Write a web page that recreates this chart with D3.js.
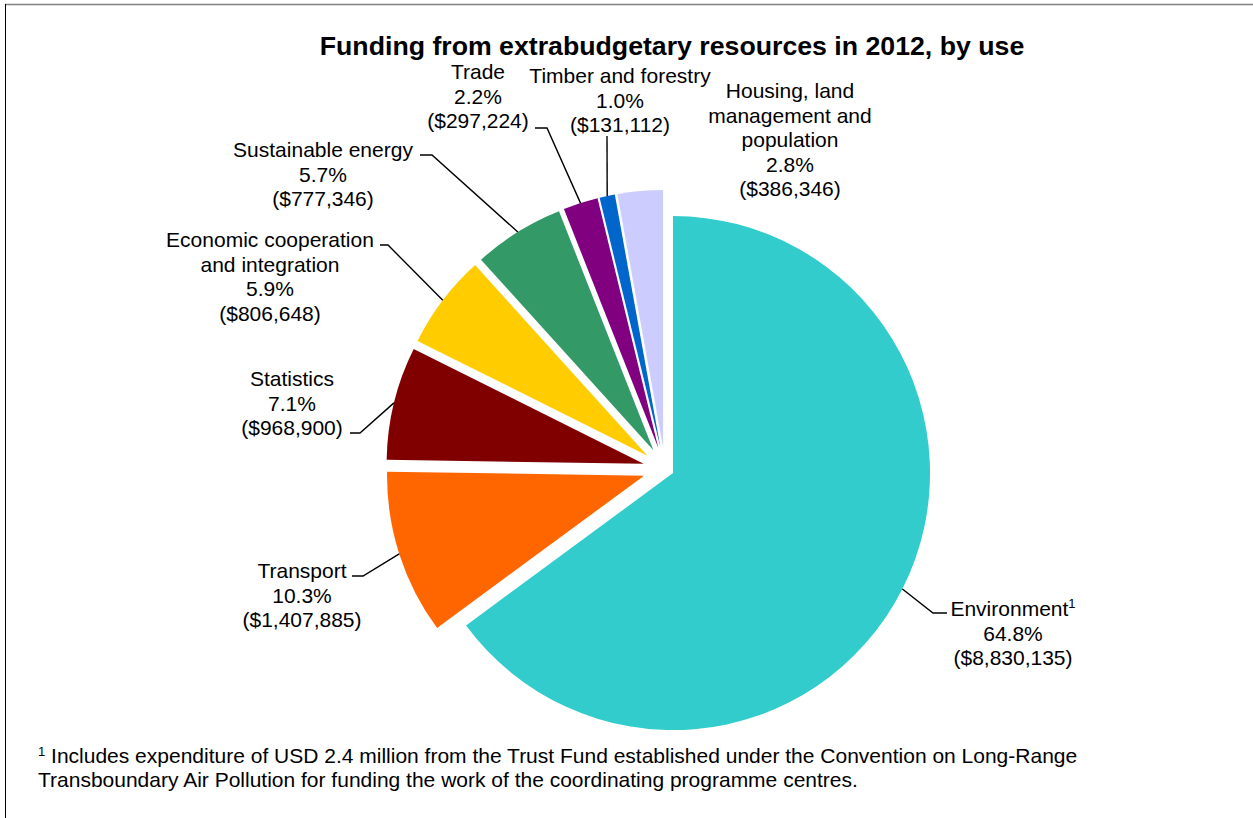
<!DOCTYPE html>
<html>
<head>
<meta charset="utf-8">
<script src="https://cdn.jsdelivr.net/npm/d3@7"></script>
<style>
  body { margin: 0; background: #fff; }
  svg { display: block; }
  text { font-family: "Liberation Sans", Arial, sans-serif; fill: #000; }
</style>
</head>
<body>
<svg id="chart" width="1253" height="818"></svg>
<script>
// Extrabudgetary funding in 2012, by use (USD)
const categories = [
  "Environment",
  "Transport",
  "Statistics",
  "Economic cooperation\nand integration",
  "Sustainable energy",
  "Trade",
  "Timber and forestry",
  "Housing, land\nmanagement and\npopulation"
];
const amounts = [8830135, 1407885, 968900, 806648, 777346, 297224, 131112, 386346];
const percents = [64.8, 10.3, 7.1, 5.9, 5.7, 2.2, 1.0, 2.8];
const footnoteMarks = ["1", "", "", "", "", "", "", ""];
const colors = ["#33CCCC", "#FF6600", "#800000", "#FFCC00", "#339966", "#800080", "#0066CC", "#CCCCFF"];

const titleText = "Funding from extrabudgetary resources in 2012, by use";
const footnoteLines = [
  "Includes expenditure of USD 2.4 million from the Trust Fund established under the Convention on Long-Range",
  "Transboundary Air Pollution for funding the work of the coordinating programme centres."
];

// Layout
const W = 1253, H = 818;
const cx = 665, cy = 469, radius = 257;
const explode = [9, 22, 22, 22, 22, 22, 22, 22];
// label anchor: centre x and first baseline; leader: label-side points
const labelPos = [
  { x: 1013, y: 616, leader: [[947, 613], [933, 613]] },
  { x: 302, y: 578, leader: [[352, 576], [363, 576]] },
  { x: 292, y: 386, leader: [[350, 433], [360, 433]] },
  { x: 270, y: 247, leader: [[380, 245], [388, 245]] },
  { x: 323, y: 157, leader: [[420, 155], [432, 155]] },
  { x: 478, y: 79, leader: [[535, 128], [547, 128]] },
  { x: 620, y: 83, leader: [[607, 136]] },
  { x: 790, y: 98, leader: null }
];
const lineH = 24.5;

const svg = d3.select("#chart");

// outer frame
svg.append("line").attr("x1", 5).attr("y1", 4.5).attr("x2", W).attr("y2", 4.5)
  .attr("stroke", "#808080").attr("stroke-width", 1.5);
svg.append("line").attr("x1", 5.5).attr("y1", 4).attr("x2", 5.5).attr("y2", H)
  .attr("stroke", "#000").attr("stroke-width", 1);

// title
svg.append("text")
  .attr("x", 672).attr("y", 55)
  .attr("text-anchor", "middle")
  .attr("font-weight", "bold")
  .attr("font-size", 26.7)
  .text(titleText);

// pie
const data = categories.map((c, i) => ({
  name: c, amount: amounts[i], pct: percents[i], mark: footnoteMarks[i],
  color: colors[i], explode: explode[i], pos: labelPos[i]
}));

const pie = d3.pie().sort(null).value(d => d.amount).startAngle(0).endAngle(2 * Math.PI);
const arcs = pie(data);
const arc = d3.arc().innerRadius(0).outerRadius(radius);

const dir = a => [Math.sin(a), -Math.cos(a)];

const gPie = svg.append("g").attr("transform", `translate(${cx},${cy})`);
gPie.selectAll("path.slice")
  .data(arcs)
  .join("path")
  .attr("class", "slice")
  .attr("d", arc)
  .attr("fill", d => d.data.color)
  .attr("transform", d => {
    const m = (d.startAngle + d.endAngle) / 2;
    const [ux, uy] = dir(m);
    return `translate(${ux * d.data.explode},${uy * d.data.explode})`;
  });

// leader lines: from label to the middle of each slice's outer arc
arcs.forEach(d => {
  const p = d.data.pos;
  if (!p.leader) return;
  const m = (d.startAngle + d.endAngle) / 2;
  const [ux, uy] = dir(m);
  const ex = cx + ux * (d.data.explode + radius);
  const ey = cy + uy * (d.data.explode + radius);
  const pts = p.leader.concat([[ex, ey]]);
  svg.append("path")
    .attr("d", d3.line()(pts))
    .attr("fill", "none")
    .attr("stroke", "#000")
    .attr("stroke-width", 1.4);
});

// labels
const fmt = d3.format(",");
arcs.forEach(d => {
  const p = d.data.pos;
  const lines = d.data.name.split("\n");
  const t = svg.append("text")
    .attr("text-anchor", "middle")
    .attr("font-size", 21);
  lines.forEach((ln, i) => {
    const ts = t.append("tspan").attr("x", p.x).attr("y", p.y + i * lineH).text(ln);
    if (i === lines.length - 1 && d.data.mark) {
      ts.append("tspan").attr("font-size", 13).attr("dy", -8).text(d.data.mark);
    }
  });
  t.append("tspan").attr("x", p.x).attr("y", p.y + lines.length * lineH)
    .text(d.data.pct.toFixed(1) + "%");
  t.append("tspan").attr("x", p.x).attr("y", p.y + (lines.length + 1) * lineH)
    .text("($" + fmt(d.data.amount) + ")");
});

// footnote
const fn = svg.append("text").attr("font-size", 21);
fn.append("tspan").attr("x", 38).attr("y", 763).attr("font-size", 13).attr("dy", -7).text("1");
fn.append("tspan").attr("dy", 7).text(" " + footnoteLines[0]);
fn.append("tspan").attr("x", 38).attr("y", 787).text(footnoteLines[1]);
</script>
</body>
</html>
